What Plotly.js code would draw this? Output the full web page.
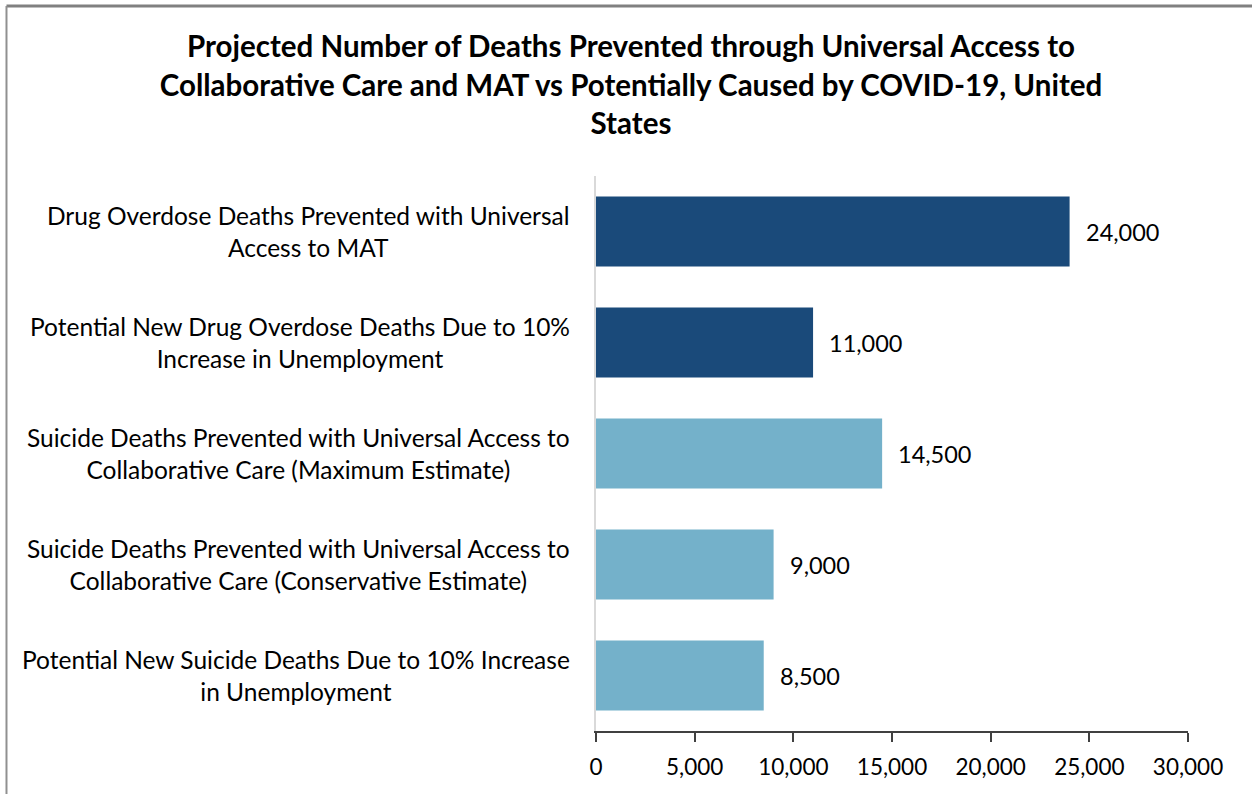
<!DOCTYPE html>
<html>
<head>
<meta charset="utf-8">
<script src="https://cdn.plot.ly/plotly-3.0.1.min.js"></script>
<style>
  html, body { margin: 0; padding: 0; background: #fff; }
  #chart { width: 1252px; height: 794px; }
</style>
</head>
<body>
<div id="chart"></div>
<script>
const categories = [
  "Drug Overdose Deaths Prevented with Universal<br>Access to MAT",
  "Potential New Drug Overdose Deaths Due to 10%<br>Increase in Unemployment",
  "Suicide Deaths Prevented with Universal Access to<br>Collaborative Care (Maximum Estimate)",
  "Suicide Deaths Prevented with Universal Access to<br>Collaborative Care (Conservative Estimate)",
  "Potential New Suicide Deaths Due to 10% Increase<br>in Unemployment"
];
const values = [24000, 11000, 14500, 9000, 8500];
const valueLabels = ["24,000", "11,000", "14,500", "9,000", "8,500"];
const barColors = ["#1a4a7a", "#1a4a7a", "#74b1ca", "#74b1ca", "#74b1ca"];
const tickVals = [0, 5000, 10000, 15000, 20000, 25000, 30000];
const tickText = ["0", "5,000", "10,000", "15,000", "20,000", "25,000", "30,000"];
const titleText = "Projected Number of Deaths Prevented through Universal Access to<br>Collaborative Care and MAT vs Potentially Caused by COVID-19, United<br>States";

const FONT = "Lato, 'Open Sans', sans-serif";
const ids = categories.map((c, i) => "c" + i);

const trace = {
  type: "bar",
  orientation: "h",
  y: ids,
  x: values,
  marker: { color: barColors },
  width: 0.63,
  hoverinfo: "none"
};

const annotations = [];
categories.forEach((c, i) => {
  annotations.push({
    xref: "paper", yref: "y", x: 0, y: ids[i],
    xanchor: "right", yanchor: "middle", xshift: -24,
    text: c, showarrow: false, align: "center",
    font: { family: FONT, size: 24.5, color: "#000" }
  });
  annotations.push({
    xref: "x", yref: "y", x: values[i], y: ids[i],
    xanchor: "left", yanchor: "middle", xshift: 14,
    text: valueLabels[i], showarrow: false,
    font: { family: FONT, size: 23.5, color: "#000" }
  });
});

const layout = {
  width: 1252, height: 794,
  margin: { l: 596, r: 64, t: 176, b: 63 },
  paper_bgcolor: "#fff", plot_bgcolor: "#fff",
  showlegend: false,
  title: {
    text: titleText,
    x: 0.504, xanchor: "center", xref: "container",
    y: 0.928, yanchor: "middle", yref: "container",
    font: { family: FONT, size: 29.5, color: "#000", weight: "bold" }
  },
  xaxis: {
    range: [0, 30000],
    tickvals: tickVals, ticktext: tickText,
    ticks: "outside", ticklen: 9, tickcolor: "#404040", tickwidth: 2,
    ticklabelstandoff: 6,
    showline: true, linecolor: "#404040", linewidth: 2,
    showgrid: false, zeroline: false,
    tickfont: { family: FONT, size: 22.5, color: "#000" },
    fixedrange: true
  },
  yaxis: {
    autorange: "reversed",
    showticklabels: false, ticks: "",
    showline: true, linecolor: "#d9d9d9", linewidth: 2,
    showgrid: false, zeroline: false,
    fixedrange: true
  },
  annotations: annotations,
  shapes: [
    { type: "line", xref: "paper", yref: "paper", x0: -0.9958, x1: 1.2, y0: 1.3063, y1: 1.3063, line: { color: "#808080", width: 3 } },
    { type: "line", xref: "paper", yref: "paper", x0: -0.9958, x1: -0.9958, y0: -0.2, y1: 1.3063, line: { color: "#909090", width: 2 } }
  ]
};

Plotly.newPlot("chart", [trace], layout, { staticPlot: true, displayModeBar: false });
</script>
</body>
</html>
